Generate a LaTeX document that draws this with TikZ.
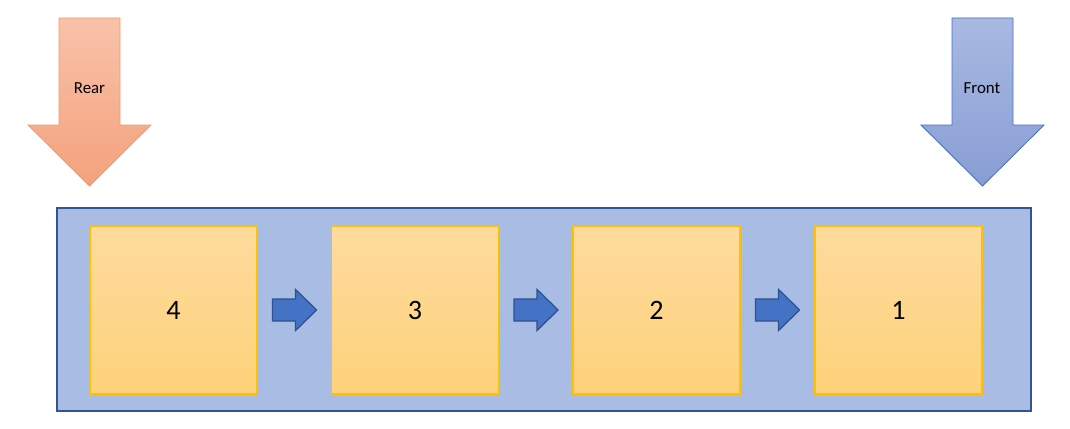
\documentclass[tikz,border=0pt]{standalone}
\usepackage{fontspec}
\setmainfont{Carlito}
\usetikzlibrary{calc}
\definecolor{qborder}{HTML}{2F5597}
\definecolor{qfill}{HTML}{A9BCE3}
\definecolor{celltop}{HTML}{FEDB9E}
\definecolor{cellbot}{HTML}{FDD27A}
\definecolor{cellline}{HTML}{FFC000}
\definecolor{stepfill}{HTML}{4472C4}
\definecolor{stepline}{HTML}{2F528F}
\definecolor{reartop}{HTML}{F8C2A9}
\definecolor{rearbot}{HTML}{F4A17D}
\definecolor{rearline}{HTML}{F29B69}
\definecolor{fronttop}{HTML}{A9B9E1}
\definecolor{frontbot}{HTML}{889DD5}
\definecolor{frontline}{HTML}{4472C4}

\begin{document}
\begin{tikzpicture}[
  queue/.style={rectangle, draw=qborder, fill=qfill, line width=1.2pt,
                minimum width=24.35cm, minimum height=5.075cm},
  cell/.style={rectangle, draw=cellline, top color=celltop, bottom color=cellbot,
               line width=0.8pt, minimum width=4.175cm, minimum height=4.2cm,
               font=\fontsize{20}{24}\selectfont},
  steparrow/.style={draw=stepline, fill=stepfill, line width=0.9pt, line join=miter},
  reararrow/.style={draw=rearline, top color=reartop, bottom color=rearbot, line width=0.6pt},
  frontarrow/.style={draw=frontline, top color=fronttop, bottom color=frontbot, line width=0.6pt},
  tag/.style={font=\fontsize{12}{14}\selectfont}
]
  \useasboundingbox (0,0) rectangle (26.75,10.7);
  \node[queue] (q) at (13.6,2.9625) {};
  \node[cell] (c4) at (4.3375,2.95)  {4};
  \node[cell] (c3) at (10.375,2.95)  {3};
  \node[cell] (c2) at (16.4125,2.95) {2};
  \node[cell] (c1) at (22.4625,2.95) {1};
  % block arrows between the cells
  \foreach \a/\b in {c4/c3, c3/c2, c2/c1}
    \draw[steparrow] ($(\a.east)+(0.375,-0.275)$) -- ++(0,0.55) -- ++(0.575,0)
      -- ++(0,0.2375) -- ++(0.525,-0.5125) -- ++(-0.525,-0.5125) -- ++(0,0.2375) -- cycle;
  % rear and front pointers
  \draw[reararrow] (1.475,10.25) -- (3.0,10.25) -- (3.0,7.575) -- (3.775,7.575)
    -- (2.2375,6.05) -- (0.7,7.575) -- (1.475,7.575) -- cycle;
  \draw[frontarrow] (23.8,10.25) -- (25.325,10.25) -- (25.325,7.575) -- (26.1,7.575)
    -- (24.5625,6.05) -- (23.025,7.575) -- (23.8,7.575) -- cycle;
  \node[tag] (rear)  at (2.2375,8.5) {Rear};
  \node[tag] (front) at (24.55,8.5)  {Front};
\end{tikzpicture}
\end{document}
